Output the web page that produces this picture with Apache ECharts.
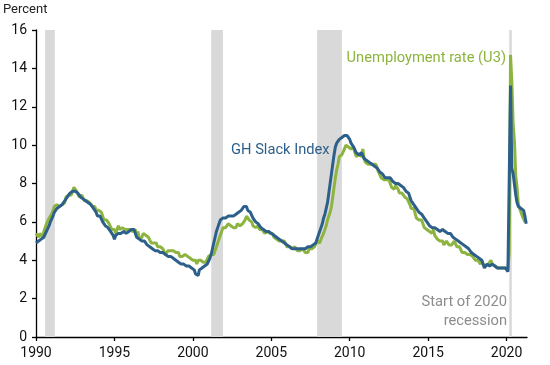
<!DOCTYPE html>
<html>
<head>
<meta charset="utf-8">
<script src="https://cdn.jsdelivr.net/npm/echarts@6/dist/echarts.min.js"></script>
<style>
html,body{margin:0;padding:0;background:#fff;}
#chart{width:550px;height:365px;}
</style>
</head>
<body>
<div id="chart"></div>
<script>
// Monthly data, starting January 1990
var startYear = 1990;
var u3 = [
5.4,5.3,5.2,5.4,5.4,5.2,5.5,5.7,5.9,5.9,6.2,6.3,
6.4,6.6,6.8,6.7,6.9,6.9,6.8,6.9,6.9,7.0,7.0,7.3,
7.3,7.4,7.4,7.4,7.6,7.8,7.7,7.6,7.6,7.3,7.4,7.4,
7.3,7.1,7.0,7.1,7.1,7.0,6.9,6.8,6.7,6.8,6.6,6.5,
6.6,6.6,6.5,6.4,6.1,6.1,6.1,6.0,5.9,5.8,5.6,5.5,
5.6,5.4,5.4,5.8,5.6,5.6,5.7,5.7,5.6,5.5,5.6,5.6,
5.6,5.5,5.5,5.6,5.6,5.3,5.5,5.1,5.2,5.2,5.4,5.4,
5.3,5.2,5.2,5.1,4.9,5.0,4.9,4.8,4.9,4.7,4.6,4.7,
4.6,4.6,4.7,4.3,4.4,4.5,4.5,4.5,4.6,4.5,4.4,4.4,
4.3,4.4,4.2,4.3,4.2,4.3,4.3,4.2,4.2,4.1,4.1,4.0,
4.0,4.1,4.0,3.8,4.0,4.0,4.0,4.1,3.9,3.9,3.9,3.9,
4.2,4.2,4.3,4.4,4.3,4.5,4.6,4.9,5.0,5.3,5.5,5.7,
5.7,5.7,5.7,5.9,5.8,5.8,5.8,5.7,5.7,5.7,5.9,6.0,
5.8,5.9,5.9,6.0,6.1,6.3,6.2,6.1,6.1,6.0,5.8,5.7,
5.7,5.6,5.8,5.6,5.6,5.6,5.5,5.4,5.4,5.5,5.4,5.4,
5.3,5.4,5.2,5.2,5.1,5.0,5.0,4.9,5.0,5.0,5.0,4.9,
4.7,4.8,4.7,4.7,4.6,4.6,4.7,4.7,4.5,4.4,4.5,4.4,
4.6,4.5,4.4,4.5,4.4,4.6,4.7,4.6,4.7,4.7,4.7,5.0,
5.0,4.9,5.1,5.0,5.4,5.6,5.8,6.1,6.1,6.5,6.8,7.3,
7.8,8.3,8.7,9.0,9.4,9.5,9.5,9.6,9.8,10.0,9.9,9.9,
9.8,9.8,9.9,9.9,9.6,9.4,9.4,9.5,9.5,9.4,9.8,9.3,
9.1,9.0,9.0,9.1,9.0,9.1,9.0,9.0,9.0,8.8,8.6,8.5,
8.3,8.3,8.2,8.2,8.2,8.2,8.2,8.1,7.8,7.8,7.7,7.9,
8.0,7.7,7.5,7.6,7.5,7.5,7.3,7.2,7.2,7.2,6.9,6.7,
6.6,6.7,6.7,6.2,6.3,6.1,6.2,6.1,5.9,5.7,5.8,5.6,
5.7,5.5,5.4,5.4,5.6,5.3,5.2,5.1,5.0,5.0,5.1,5.0,
4.8,4.9,5.0,5.1,4.8,4.9,4.8,4.9,5.0,4.9,4.7,4.7,
4.7,4.6,4.4,4.4,4.4,4.3,4.3,4.4,4.3,4.2,4.2,4.1,
4.0,4.1,4.0,4.0,3.8,4.0,3.8,3.8,3.7,3.8,3.8,3.9,
4.0,3.8,3.8,3.7,3.6,3.6,3.7,3.6,3.5,3.6,3.6,3.6,
3.5,3.5,4.4,14.7,13.3,11.1,10.2,8.4,7.8,6.9,6.7,6.7,
6.3,6.2,6.0,6.1
];
var slack = [
4.9,5.0,5.0,5.1,5.1,5.0,5.2,5.3,5.5,5.6,5.8,6.0,
6.1,6.3,6.5,6.6,6.7,6.8,6.8,6.9,6.9,7.0,7.1,7.2,
7.3,7.4,7.5,7.5,7.6,7.6,7.6,7.5,7.5,7.4,7.3,7.3,
7.2,7.1,7.1,7.0,7.0,7.0,6.9,6.8,6.7,6.6,6.5,6.3,
6.3,6.3,6.2,6.0,5.9,5.8,5.8,5.7,5.6,5.5,5.4,5.3,
5.1,5.3,5.3,5.4,5.4,5.4,5.5,5.5,5.4,5.4,5.5,5.5,
5.5,5.6,5.6,5.6,5.5,5.2,5.2,5.1,5.1,5.0,5.0,5.0,
4.9,4.8,4.8,4.7,4.7,4.6,4.6,4.5,4.5,4.5,4.4,4.4,
4.4,4.4,4.3,4.3,4.3,4.2,4.2,4.2,4.1,4.1,4.0,4.0,
4.0,3.9,3.9,3.8,3.8,3.8,3.8,3.7,3.7,3.7,3.6,3.6,
3.6,3.5,3.3,3.4,3.2,3.5,3.5,3.6,3.6,3.7,3.7,3.8,
3.9,4.1,4.3,4.6,4.9,5.2,5.5,5.7,5.9,6.1,6.2,6.2,
6.2,6.2,6.2,6.3,6.2,6.3,6.3,6.3,6.3,6.4,6.4,6.5,
6.5,6.6,6.6,6.8,6.7,6.8,6.6,6.7,6.5,6.4,6.2,6.1,
6.0,5.9,5.9,5.8,5.7,5.7,5.6,5.6,5.5,5.5,5.5,5.4,
5.4,5.3,5.3,5.3,5.2,5.2,5.1,5.1,5.0,5.0,4.9,4.9,
4.8,4.8,4.7,4.7,4.6,4.6,4.6,4.6,4.6,4.5,4.6,4.6,
4.6,4.6,4.6,4.6,4.7,4.6,4.7,4.8,4.8,4.8,4.9,5.0,
5.3,5.5,5.7,5.9,6.2,6.4,6.7,7.0,7.5,8.0,8.5,9.0,
9.5,9.9,10.1,10.2,10.3,10.3,10.4,10.5,10.5,10.6,10.5,10.4,
10.3,10.1,10.0,9.9,9.8,9.6,9.7,9.5,9.4,9.6,9.5,9.3,
9.2,9.2,9.1,9.1,9.1,9.0,9.0,8.9,8.9,8.8,8.7,8.6,
8.5,8.5,8.4,8.3,8.4,8.3,8.4,8.3,8.2,8.1,8.0,8.0,
8.1,8.0,7.9,7.9,7.8,7.8,7.7,7.6,7.5,7.5,7.3,7.1,
7.0,6.9,6.8,6.7,6.6,6.5,6.4,6.4,6.3,6.2,6.1,6.0,
5.9,5.8,5.8,5.7,5.7,5.7,5.6,5.6,5.6,5.5,5.6,5.6,
5.5,5.5,5.5,5.4,5.4,5.4,5.3,5.2,5.1,5.1,5.0,5.0,
5.0,4.9,4.9,4.8,4.7,4.7,4.6,4.6,4.5,4.4,4.4,4.3,
4.2,4.2,4.1,4.1,4.0,4.0,3.9,3.6,3.7,3.8,3.7,3.7,
3.7,3.8,3.7,3.7,3.6,3.6,3.7,3.6,3.5,3.6,3.5,3.6,
3.5,3.4,3.5,13.1,8.8,8.5,8.4,7.4,7.0,6.8,6.8,6.7,
6.7,6.6,6.3,5.9
];
var recessionStart = [1990.58, 2001.17, 2007.92, 2020.17];
var recessionEnd   = [1991.2, 2001.92, 2009.5, 2020.33];
var xTicks = [1990, 1995, 2000, 2005, 2010, 2015, 2020];
var yTicks = [0, 2, 4, 6, 8, 10, 12, 14, 16];

function toPairs(arr) {
  return arr.map(function (v, i) { return [startYear + i / 12, v]; });
}

var GREEN = '#8db43e';
var BLUE = '#2d5f8b';
var FONT = 'Roboto';

var chart = echarts.init(document.getElementById('chart'), null, {renderer: 'canvas'});
chart.setOption({
  animation: false,
  backgroundColor: '#ffffff',
  grid: {left: 36, right: 23, top: 30, bottom: 28, containLabel: false},
  xAxis: {
    type: 'value', min: 1990, max: 2021.3, interval: 5,
    splitLine: {show: false},
    axisLine: {lineStyle: {color: '#000', width: 1.3}},
    axisTick: {show: true, length: 4, lineStyle: {color: '#000', width: 1.3}, customValues: xTicks},
    axisLabel: {customValues: xTicks, color: '#111', fontSize: 14, fontFamily: FONT, margin: 9,
      formatter: function (v) { return String(Math.round(v)); }}
  },
  yAxis: {
    type: 'value', min: 0, max: 16, interval: 2,
    splitLine: {show: false},
    axisLine: {show: true, lineStyle: {color: '#000', width: 1.3}},
    axisTick: {show: true, length: 4, lineStyle: {color: '#000', width: 1.3}, customValues: yTicks},
    axisLabel: {customValues: yTicks, color: '#111', fontSize: 14, fontFamily: FONT, margin: 9}
  },
  series: [
    {
      type: 'line', name: 'Unemployment rate (U3)', data: toPairs(u3),
      showSymbol: false, symbol: 'none',
      lineStyle: {color: GREEN, width: 3}, z: 2,
      markArea: {
        silent: true,
        itemStyle: {color: '#d9d9d9'},
        data: recessionStart.map(function (s, i) { return [{xAxis: s}, {xAxis: recessionEnd[i]}]; })
      }
    },
    {
      type: 'line', name: 'GH Slack Index', data: toPairs(slack),
      showSymbol: false, symbol: 'none',
      lineStyle: {color: BLUE, width: 3}, z: 3
    }
  ],
  graphic: [
    {type: 'text', z: 100, left: 3, top: 3, style: {text: 'Percent', fill: '#222', font: '13px Roboto'}},
    {type: 'text', z: 100, right: 44, top: 51, style: {text: 'Unemployment rate (U3)', fill: GREEN, font: '14.7px Roboto', textAlign: 'right'}},
    {type: 'text', z: 100, left: 231, top: 143, style: {text: 'GH Slack Index', fill: BLUE, font: '14.7px Roboto'}},
    {type: 'text', z: 100, right: 43, top: 293, style: {text: 'Start of 2020\nrecession', fill: '#8c8c8c', font: '14.7px Roboto', textAlign: 'right', lineHeight: 19}}
  ]
});
</script>
</body>
</html>
